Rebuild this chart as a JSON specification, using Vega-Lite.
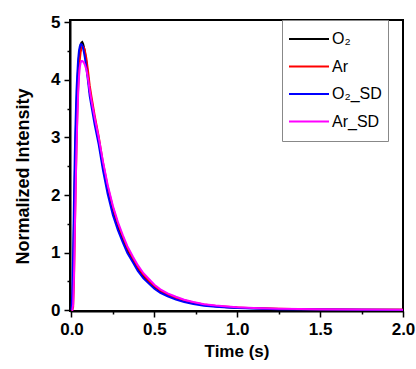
{
  "$schema": "https://vega.github.io/schema/vega-lite/v6.json",
  "width": 333,
  "height": 291,
  "autosize": "none",
  "padding": {"left": 70, "top": 20, "right": 13, "bottom": 58},
  "background": "white",
  "config": {"view": {"stroke": "black", "strokeWidth": 2}, "font": "Liberation Sans"},
  "data": {"values": [
    {"t": 0, "O2": 0, "Ar": 0, "O2_SD": 0, "Ar_SD": 0},
    {"t": 0.005, "O2": 0.05, "Ar": 0, "O2_SD": 0.3, "Ar_SD": 0},
    {"t": 0.01, "O2": 0.6, "Ar": 0.05, "O2_SD": 1.0, "Ar_SD": 0.1},
    {"t": 0.015, "O2": 1.5, "Ar": 0.5, "O2_SD": 1.9, "Ar_SD": 0.6},
    {"t": 0.02, "O2": 2.3, "Ar": 1.3, "O2_SD": 2.7, "Ar_SD": 1.4},
    {"t": 0.025, "O2": 3.0, "Ar": 2.1, "O2_SD": 3.3, "Ar_SD": 2.1},
    {"t": 0.03, "O2": 3.5, "Ar": 2.8, "O2_SD": 3.8, "Ar_SD": 2.8},
    {"t": 0.035, "O2": 3.9, "Ar": 3.4, "O2_SD": 4.1, "Ar_SD": 3.3},
    {"t": 0.04, "O2": 4.2, "Ar": 3.85, "O2_SD": 4.35, "Ar_SD": 3.75},
    {"t": 0.045, "O2": 4.4, "Ar": 4.15, "O2_SD": 4.5, "Ar_SD": 4.05},
    {"t": 0.05, "O2": 4.53, "Ar": 4.35, "O2_SD": 4.58, "Ar_SD": 4.22},
    {"t": 0.055, "O2": 4.61, "Ar": 4.48, "O2_SD": 4.62, "Ar_SD": 4.3},
    {"t": 0.06, "O2": 4.65, "Ar": 4.55, "O2_SD": 4.62, "Ar_SD": 4.33},
    {"t": 0.065, "O2": 4.66, "Ar": 4.58, "O2_SD": 4.6, "Ar_SD": 4.33},
    {"t": 0.07, "O2": 4.63, "Ar": 4.58, "O2_SD": 4.55, "Ar_SD": 4.32},
    {"t": 0.075, "O2": 4.57, "Ar": 4.56, "O2_SD": 4.48, "Ar_SD": 4.3},
    {"t": 0.08, "O2": 4.5, "Ar": 4.52, "O2_SD": 4.4, "Ar_SD": 4.27},
    {"t": 0.09, "O2": 4.3, "Ar": 4.37, "O2_SD": 4.2, "Ar_SD": 4.18},
    {"t": 0.1, "O2": 4.05, "Ar": 4.15, "O2_SD": 3.97, "Ar_SD": 4.02},
    {"t": 0.11, "O2": 3.8, "Ar": 3.9, "O2_SD": 3.72, "Ar_SD": 3.82},
    {"t": 0.12, "O2": 3.64, "Ar": 3.72, "O2_SD": 3.55, "Ar_SD": 3.65},
    {"t": 0.14, "O2": 3.31, "Ar": 3.38, "O2_SD": 3.22, "Ar_SD": 3.34},
    {"t": 0.164, "O2": 2.96, "Ar": 3.02, "O2_SD": 2.88, "Ar_SD": 3.0},
    {"t": 0.19, "O2": 2.5, "Ar": 2.56, "O2_SD": 2.43, "Ar_SD": 2.58},
    {"t": 0.218, "O2": 2.09, "Ar": 2.15, "O2_SD": 2.02, "Ar_SD": 2.18},
    {"t": 0.25, "O2": 1.72, "Ar": 1.78, "O2_SD": 1.65, "Ar_SD": 1.81},
    {"t": 0.28, "O2": 1.45, "Ar": 1.5, "O2_SD": 1.39, "Ar_SD": 1.53},
    {"t": 0.31, "O2": 1.22, "Ar": 1.27, "O2_SD": 1.17, "Ar_SD": 1.3},
    {"t": 0.337, "O2": 1.04, "Ar": 1.08, "O2_SD": 0.99, "Ar_SD": 1.11},
    {"t": 0.37, "O2": 0.87, "Ar": 0.9, "O2_SD": 0.83, "Ar_SD": 0.93},
    {"t": 0.4, "O2": 0.72, "Ar": 0.75, "O2_SD": 0.68, "Ar_SD": 0.78},
    {"t": 0.434, "O2": 0.58, "Ar": 0.61, "O2_SD": 0.55, "Ar_SD": 0.64},
    {"t": 0.47, "O2": 0.48, "Ar": 0.5, "O2_SD": 0.45, "Ar_SD": 0.53},
    {"t": 0.5, "O2": 0.4, "Ar": 0.42, "O2_SD": 0.37, "Ar_SD": 0.44},
    {"t": 0.536, "O2": 0.32, "Ar": 0.34, "O2_SD": 0.3, "Ar_SD": 0.36},
    {"t": 0.58, "O2": 0.26, "Ar": 0.27, "O2_SD": 0.24, "Ar_SD": 0.29},
    {"t": 0.63, "O2": 0.2, "Ar": 0.21, "O2_SD": 0.18, "Ar_SD": 0.23},
    {"t": 0.68, "O2": 0.16, "Ar": 0.17, "O2_SD": 0.14, "Ar_SD": 0.18},
    {"t": 0.735, "O2": 0.12, "Ar": 0.13, "O2_SD": 0.105, "Ar_SD": 0.14},
    {"t": 0.8, "O2": 0.085, "Ar": 0.095, "O2_SD": 0.075, "Ar_SD": 0.1},
    {"t": 0.87, "O2": 0.065, "Ar": 0.07, "O2_SD": 0.055, "Ar_SD": 0.077},
    {"t": 0.94, "O2": 0.05, "Ar": 0.055, "O2_SD": 0.042, "Ar_SD": 0.06},
    {"t": 1.0, "O2": 0.04, "Ar": 0.045, "O2_SD": 0.034, "Ar_SD": 0.048},
    {"t": 1.1, "O2": 0.03, "Ar": 0.033, "O2_SD": 0.025, "Ar_SD": 0.036},
    {"t": 1.25, "O2": 0.018, "Ar": 0.02, "O2_SD": 0.015, "Ar_SD": 0.022},
    {"t": 1.5, "O2": 0.01, "Ar": 0.011, "O2_SD": 0.008, "Ar_SD": 0.012},
    {"t": 1.75, "O2": 0.005, "Ar": 0.006, "O2_SD": 0.004, "Ar_SD": 0.007},
    {"t": 2.0, "O2": 0.003, "Ar": 0.003, "O2_SD": 0.002, "Ar_SD": 0.004}
  ]},
  "transform": [{"fold": ["O2", "Ar", "O2_SD", "Ar_SD"], "as": ["series", "value"]}],
  "mark": {"type": "line", "clip": true},
  "encoding": {
    "x": {
      "field": "t", "type": "quantitative",
      "scale": {"domain": [-0.009, 2.0], "nice": false, "zero": false},
      "axis": {
        "title": "Time (s)",
        "values": [0, 0.25, 0.5, 0.75, 1, 1.25, 1.5, 1.75, 2],
        "labelExpr": "datum.value % 0.5 == 0 ? format(datum.value, '.1f') : ''",
        "labelOverlap": false, "labelFlush": false, "grid": false,
        "domainColor": "black", "domainWidth": 2,
        "tickColor": "black", "tickWidth": 1.5,
        "tickSize": {"condition": {"test": "datum.value % 0.5 == 0", "value": 6}, "value": 3},
        "labelFont": "Liberation Sans", "labelFontWeight": "bold", "labelFontSize": 17, "labelColor": "black", "labelPadding": 4,
        "titleFont": "Liberation Sans", "titleFontWeight": "bold", "titleFontSize": 17, "titleColor": "black", "titlePadding": 6
      }
    },
    "y": {
      "field": "value", "type": "quantitative",
      "scale": {"domain": [-0.017, 5.043], "nice": false, "zero": false},
      "axis": {
        "title": "Normalized Intensity",
        "values": [0, 0.5, 1, 1.5, 2, 2.5, 3, 3.5, 4, 4.5, 5],
        "labelExpr": "datum.value % 1 == 0 ? format(datum.value, 'd') : ''",
        "labelOverlap": false, "labelFlush": false, "grid": false,
        "domainColor": "black", "domainWidth": 2,
        "tickColor": "black", "tickWidth": 1.5,
        "tickSize": {"condition": {"test": "datum.value % 1 == 0", "value": 6}, "value": 3},
        "labelFont": "Liberation Sans", "labelFontWeight": "bold", "labelFontSize": 17, "labelColor": "black", "labelPadding": 4,
        "titleFont": "Liberation Sans", "titleFontWeight": "bold", "titleFontSize": 18, "titleColor": "black", "titlePadding": 18,
        "titleY": 156
      }
    },
    "color": {
      "field": "series", "type": "nominal",
      "scale": {"domain": ["O2", "Ar", "O2_SD", "Ar_SD"], "range": ["#000000", "#ff0000", "#0000ff", "#ff00ff"]},
      "legend": {
        "orient": "none", "legendX": 212, "legendY": 0, "title": null,
        "strokeColor": "#888888", "fillColor": "white", "padding": 6,
        "symbolType": "stroke", "symbolSize": 1600, "symbolStrokeWidth": 2,
        "clipHeight": 26, "rowPadding": 1.5,
        "labelFont": "Liberation Sans", "labelFontSize": 16, "labelColor": "black", "labelOffset": 2,
        "labelExpr": "replace(datum.label, 'O2', 'O₂')"
      }
    },
    "strokeWidth": {
      "field": "series", "type": "nominal",
      "scale": {"domain": ["O2", "Ar", "O2_SD", "Ar_SD"], "range": [2, 2, 1.5, 1.5]},
      "legend": null
    }
  }
}
